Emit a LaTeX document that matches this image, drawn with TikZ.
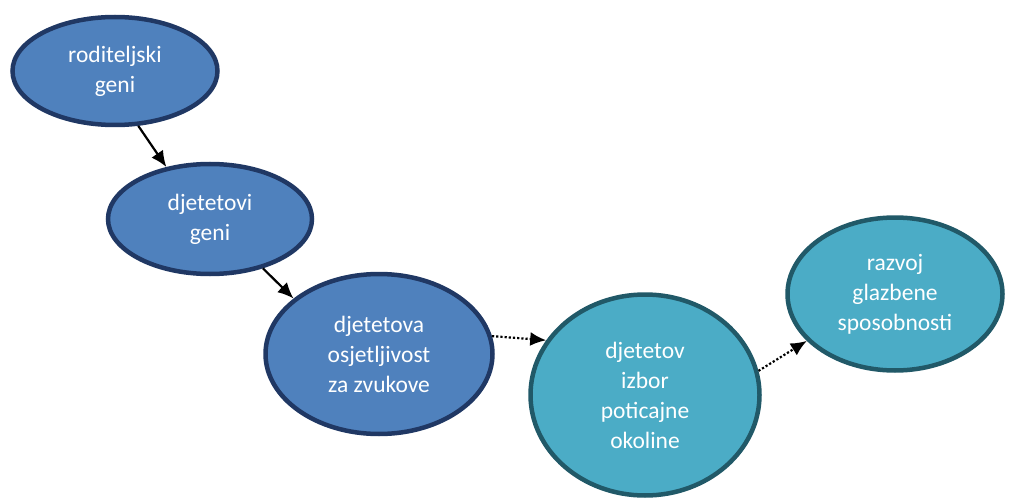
\documentclass[tikz,border=0pt]{standalone}
\usepackage{fontspec}
\setmainfont{Carlito}
\usepackage{xcolor}
\usetikzlibrary{shapes,arrows.meta,positioning}

\definecolor{blueblob}{RGB}{79,129,189}
\definecolor{navyline}{RGB}{32,56,100}
\definecolor{tealblob}{RGB}{75,172,198}
\definecolor{tealline}{RGB}{33,89,104}

\begin{document}
\begin{tikzpicture}[x=1pt, y=-1pt]
    % Define styles
    \tikzstyle{gene} = [ellipse, draw=navyline, fill=blueblob, line width=4.5pt, text=white, align=center, inner sep=0pt, font=\fontsize{23.5}{30}\selectfont]
    \tikzstyle{env} = [gene, draw=tealline, fill=tealblob]
    \tikzstyle{arrow} = [line width=2.2pt, -{Latex[length=16pt,width=14pt]}]
    \tikzstyle{weak} = [arrow, dotted]

    \useasboundingbox (0,0) rectangle (1009,500);

    % Inherited side
    \node [gene, minimum width=205pt, minimum height=108pt] (parents) at (115,71) {roditeljski\\geni};
    \node [gene, minimum width=204pt, minimum height=110pt] (childgenes) at (210,219) {djetetovi\\geni};
    \node [gene, minimum width=227pt, minimum height=160pt] (hearing) at (379,354) {djetetova\\osjetljivost\\za zvukove};

    % Environment side
    \node [env, minimum width=229pt, minimum height=201pt] (choice) at (645,395) {djetetov\\izbor\\poticajne\\okoline};
    \node [env, minimum width=215pt, minimum height=153pt] (music) at (895,294) {razvoj\\glazbene\\sposobnosti};

    % Arrows
    \draw [arrow] (parents.-67) -- (childgenes.130);
    \draw [arrow] (childgenes.-43) -- (hearing.147);
    \draw [weak] (hearing.9) -- (choice.151);
    \draw [weak] (choice.12) -- (music.-152);
\end{tikzpicture}
\end{document}
